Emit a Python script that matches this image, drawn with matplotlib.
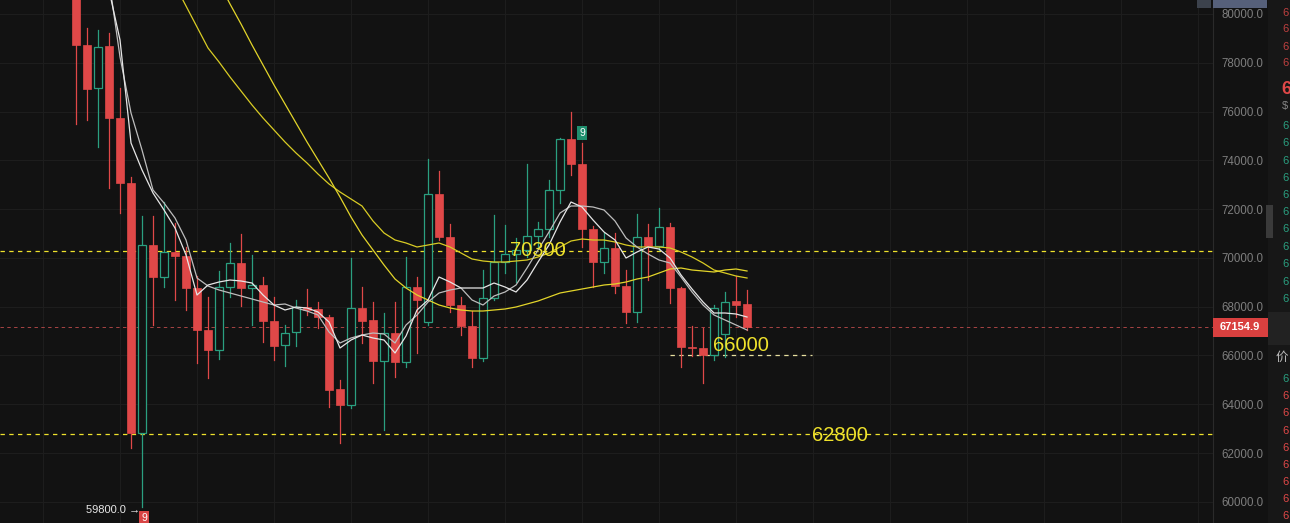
import numpy as np
import matplotlib
matplotlib.use("Agg")
import matplotlib.pyplot as plt
from matplotlib.patches import Rectangle

plt.rcParams['font.family'] = ['Liberation Sans', 'Noto Sans CJK SC', 'DejaVu Sans']

# daily candles, oldest first
opens = [81000, 78729, 76966, 78688, 75736, 73071, 62821, 70529, 69217, 70242,
         70078, 68766, 67044, 66224, 68807, 69791, 68766, 68889, 67413, 66429,
         66962, 67987, 67905, 67577, 64625, 63969, 67946, 67454, 65773, 66921,
         65732, 68807, 67372, 72620, 70857, 68069, 67208, 65896, 68356, 69832,
         70160, 70324, 70898, 71185, 72784, 74875, 73850, 71185, 69832, 70406,
         68848, 67782, 70857, 70488, 71267, 68766, 66347, 66306, 66019, 66900,
         68233, 68110]
closes = [78729, 76925, 78647, 75736, 73071, 62821, 70529, 69217, 70242, 70078,
          68766, 67044, 66224, 68807, 69791, 68766, 68889, 67413, 66388, 66921,
          67987, 67864, 67577, 64584, 63969, 67946, 67413, 65773, 66921, 65732,
          68807, 68274, 72620, 70857, 68069, 67208, 65896, 68356, 69832, 70160,
          70324, 70898, 71185, 72784, 74875, 73850, 71185, 69832, 70406, 68848,
          67782, 70857, 70488, 71267, 68766, 66347, 66306, 66019, 67946, 68192,
          68069, 67154.9]
highs = [81300, 79426, 79344, 79221, 76966, 73317, 71718, 71718, 72292, 71431,
         70447, 69258, 68397, 69463, 70611, 70980, 70119, 69217, 68397, 67249,
         68274, 68725, 68192, 67659, 64994, 69996, 68807, 68192, 67741, 68192,
         70037, 69217, 74055, 73563, 71390, 68397, 67823, 69504, 71759, 71349,
         70816, 73850, 71472, 73194, 74916, 75982, 74711, 71308, 71021, 71021,
         69504, 71800, 71390, 72046, 71431, 68807, 67208, 67126, 68069, 68602,
         69258, 68684]
lows = [75490, 75654, 74547, 72866, 71841, 62206, 59800, 67249, 68807, 68274,
        67864, 65691, 65076, 65855, 68397, 68028, 67249, 66552, 65814, 65568,
        66388, 67659, 67126, 63887, 62411, 63846, 66511, 64871, 62944, 65117,
        65527, 66101, 67249, 70734, 67782, 66839, 65527, 65773, 68274, 69381,
        69012, 70037, 70447, 70857, 72251, 73399, 70447, 68807, 69381, 68561,
        67331, 67372, 69094, 70324, 68151, 65527, 65978, 64871, 65814, 65937,
        67577, 67044]

# moving averages (first value belongs to candle *_start)
ma_fast_start = 4
ma_fast = [80984, 78934, 74711, 73604, 72661, 71964, 71226, 70119, 68479, 68889,
           69012, 69094, 69053, 68971, 68479, 68069, 67864, 67987, 67946, 67782,
           67372, 66306, 66634, 66839, 66716, 66634, 66101, 66798, 67864, 68274,
           69217, 69012, 68766, 68766, 68766, 68971, 68807, 68602, 69094, 69832,
           70529, 71472, 72292, 72087, 71554, 71062, 70734, 69996, 70242, 70447,
           70365, 69996, 69299, 68725, 68192, 67741, 67741, 67700, 67577]
ma_slow_start = 4
ma_slow = [81394, 78237, 75941, 74424, 72784, 72251, 71636, 70734, 69176, 68848,
           68684, 68561, 68438, 68315, 68192, 68069, 68110, 67946, 67823, 67659,
           66962, 66511, 66716, 66839, 66921, 66880, 66511, 67249, 67659, 68192,
           68561, 68684, 68766, 68274, 68069, 68438, 68602, 68889, 69586, 70324,
           71062, 71841, 72128, 72128, 72087, 71964, 71513, 70816, 70447, 70160,
           69914, 69791, 69217, 68602, 68069, 67659, 67454, 67249, 67044]
ma30_start = 10
ma30 = [81189, 80328, 79467, 78606, 78032, 77417, 76843, 76269, 75736, 75244,
        74752, 74301, 73891, 73440, 73030, 72702, 72415, 72128, 71513, 71021,
        70734, 70611, 70447, 70529, 70611, 70447, 70201, 69955, 69873, 69832,
        69832, 69873, 69914, 70037, 70201, 70447, 70693, 70775, 70734, 70734,
        70652, 70529, 70447, 70447, 70447, 70406, 70242, 70037, 69791, 69504,
        69381, 69258, 69176]
ma60_start = 14
ma60 = [81271, 80410, 79590, 78729, 77909, 77089, 76310, 75531, 74752, 74014,
        73276, 72497, 71677, 70939, 70324, 69709, 69135, 68766, 68479, 68274,
        68069, 67946, 67864, 67823, 67823, 67864, 67905, 67987, 68110, 68233,
        68397, 68561, 68643, 68725, 68807, 68889, 68930, 69012, 69135, 69217,
        69381, 69545, 69586, 69504, 69463, 69422, 69504, 69545, 69463]

levels = [70300, 66000, 62800]
last_price = 67154.9
low_mark = 59800.0
yticks = np.arange(60000, 80001, 2000)

BG = '#121212'
RED = '#e04848'
GREEN = '#2a9f80'
YEL = '#efe22c'

fig = plt.figure(figsize=(12.9, 5.23), dpi=100, facecolor=BG)
ax = fig.add_axes([0, 0, 1213 / 1290, 1])
ax.set_facecolor(BG)
ax.set_xlim(-5.91, 104.36)
ax.set_ylim(59131, 80574)

# faint grid
for v in yticks:
    ax.axhline(v, color='#1d1d1d', lw=0.8, zorder=0)
for k in range(-2, 105, 7):
    ax.axvline(k, color='#1d1d1d', lw=0.8, zorder=0)

# candles
w = 0.72
for i, (o, c, h, l) in enumerate(zip(opens, closes, highs, lows)):
    xi = i + 1
    top, bot = max(o, c), min(o, c)
    if c >= o:
        ax.plot([xi, xi], [top, h], color=GREEN, lw=0.9, zorder=3)
        ax.plot([xi, xi], [l, bot], color=GREEN, lw=0.9, zorder=3)
        ax.add_patch(Rectangle((xi - w / 2, bot), w, top - bot, facecolor=BG,
                               edgecolor=GREEN, lw=0.9, zorder=3))
    else:
        ax.plot([xi, xi], [l, h], color=RED, lw=0.9, zorder=3)
        ax.add_patch(Rectangle((xi - w / 2, bot), w, max(top - bot, 40),
                               facecolor=RED, edgecolor=RED, lw=0.5, zorder=3))

# moving averages
ax.plot(np.arange(ma30_start, ma30_start + len(ma30)), ma30, color='#d9cc24', lw=0.9, zorder=4)
ax.plot(np.arange(ma60_start, ma60_start + len(ma60)), ma60, color='#e3d52a', lw=0.9, zorder=4)
ax.plot(np.arange(ma_slow_start, ma_slow_start + len(ma_slow)), ma_slow, color='#bdbdbd', lw=0.9, zorder=4)
ax.plot(np.arange(ma_fast_start, ma_fast_start + len(ma_fast)), ma_fast, color='#e6e6e6', lw=0.9, zorder=4)

# support / resistance lines
ax.axhline(levels[0], color=YEL, lw=0.9, ls=(0, (3.5, 3.5)), zorder=2)
ax.axhline(levels[2], color=YEL, lw=0.9, ls=(0, (3.5, 3.5)), zorder=2)
ax.plot([55, 67.9], [levels[1], levels[1]], color='#e8e0a0', lw=0.9, ls=(0, (3.5, 3.5)), zorder=2)
ax.axhline(last_price, color='#a84444', lw=0.7, ls=(0, (3.5, 3.5)), zorder=2)

ax.text(43, levels[0], '70300', color=YEL, fontsize=14.5, ha='center', va='center', zorder=6)
ax.text(61.45, 66390, '66000', color=YEL, fontsize=14.5, ha='center', va='center', zorder=6)
ax.text(70.45, levels[2] - 80, '62800', color=YEL, fontsize=14.5, ha='center', va='center', zorder=6)

# lowest-price marker
ax.text(6.8, low_mark - 150, f'{low_mark:.1f} \u2192', color='#e8e8e8', fontsize=8,
        ha='right', va='center', zorder=6)
ax.text(7.2, 59336, '9', color='white', fontsize=7.5, ha='center', va='center', zorder=7,
        bbox=dict(boxstyle='square,pad=0.2', fc='#d84545', ec='none'))
ax.text(47, 75121, '9', color='white', fontsize=7.5, ha='center', va='center', zorder=7,
        bbox=dict(boxstyle='square,pad=0.2', fc='#1f8f6e', ec='none'))

# right price axis
ax.yaxis.tick_right()
ax.set_yticks(yticks)
ax.set_yticklabels([f'{v:.1f}' for v in yticks])
ax.tick_params(axis='y', length=0, pad=6, labelcolor='#7e7e7e', labelsize=8.3)
ax.set_xticks([])
for s in ['top', 'left', 'bottom']:
    ax.spines[s].set_visible(False)
ax.spines['right'].set_color('#2a2a2a')
ax.spines['right'].set_linewidth(0.8)


def fx(px):
    return px / 1290


def fy(py):
    return 1 - py / 523


# current price tag
fig.add_artist(Rectangle((fx(1213), fy(337)), fx(55), 19 / 523, transform=fig.transFigure,
                         fc='#d9403f', ec='none'))
fig.text(fx(1240), fy(327.5), f'{last_price:.1f}', color='white', fontsize=8,
         fontweight='bold', ha='center', va='center')

# clipped order-book panel on the far right
fig.add_artist(Rectangle((fx(1268), 0), fx(22), 1, transform=fig.transFigure, fc='#171717', ec='none'))
fig.add_artist(Rectangle((fx(1268), fy(345)), fx(22), 33 / 523, transform=fig.transFigure,
                         fc='#222222', ec='none'))
fig.add_artist(Rectangle((fx(1266), fy(238)), fx(7), 33 / 523, transform=fig.transFigure,
                         fc='#3a3a3a', ec='none'))
fig.add_artist(Rectangle((fx(1197), fy(8)), fx(14), 8 / 523, transform=fig.transFigure,
                         fc='#3c424c', ec='none'))
fig.add_artist(Rectangle((fx(1213), fy(8)), fx(54), 8 / 523, transform=fig.transFigure,
                         fc='#56607a', ec='none'))
ask_rows = [13, 29, 47, 63]
bid_rows = [126, 143, 161, 178, 195, 212, 229, 247, 264, 282, 299]
trade_rows = [(379, GREEN), (396, RED), (413, RED), (431, RED), (448, RED),
              (465, RED), (482, RED), (499, RED), (516, RED)]
for r in ask_rows:
    fig.text(fx(1282), fy(r), '6', color='#c04040', fontsize=8, va='center')
for r in bid_rows:
    fig.text(fx(1282), fy(r), '6', color=GREEN, fontsize=8, va='center')
for r, col in trade_rows:
    fig.text(fx(1282), fy(r), '6', color=col, fontsize=8, va='center')
fig.text(fx(1281), fy(90), '6', color='#e04848', fontsize=13, fontweight='bold', va='center')
fig.text(fx(1282), fy(106), '$', color='#888888', fontsize=8, va='center')
fig.text(fx(1276), fy(358), '价', color='#bbbbbb', fontsize=9, va='center')

fig.savefig('out.png', dpi=100, facecolor=BG)
